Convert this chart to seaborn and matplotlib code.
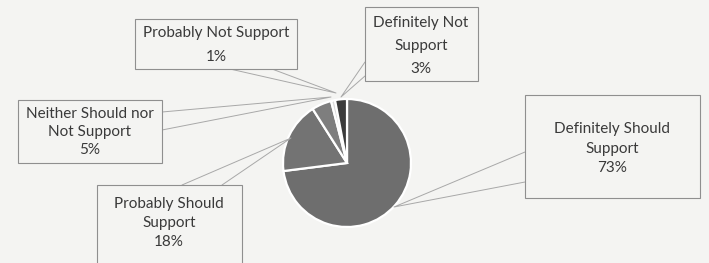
import matplotlib
matplotlib.use("Agg")
import matplotlib.pyplot as plt
import seaborn as sns
from matplotlib.patches import Rectangle

# Survey answers (clockwise from 12 o'clock)
categories = ["Definitely Should\nSupport", "Probably Should\nSupport",
              "Neither Should nor\nNot Support", "Probably Not Support",
              "Definitely Not\nSupport"]
shares = [73, 18, 5, 1, 3]
slice_colors = ["#6e6e6e", "#737373", "#7e7e7e", "#dcdcdc", "#3b3b3b"]

# Callout layout in picture pixels: box (x0, y0, x1, y1), text centre, pointer base points and tip
boxes = [(525, 95, 700, 198), (97, 185, 242, 275), (18, 100, 162, 163),
         (135, 19, 297, 69), (365, 7, 478, 81)]
text_pos = [(612, 149), (169, 223), (90, 132), (216, 45), (421, 46)]
line_gap = [1.5, 1.45, 1.4, 1.85, 1.8]
pointers = [((525, 152), (525, 182), (394, 207)),
            ((182, 185), (222, 185), (291, 138)),
            ((162, 112), (162, 130), (331, 97)),
            ((230, 69), (272, 69), (336, 93)),
            ((365, 62), (365, 76), (341, 97))]

W, H = 709, 263
pie_center = (347, 163)
pie_radius = 64

sns.set_theme(style="white")
plt.rcParams['font.family'] = ['Lato', 'DejaVu Sans']

bg = "#f4f4f2"
fig = plt.figure(figsize=(W / 100, H / 100), dpi=100, facecolor=bg)
ax = fig.add_axes([0, 0, 1, 1])
ax.set_facecolor(bg)

ax.pie(shares, colors=slice_colors, startangle=90, counterclock=False,
       center=(pie_center[0], H - pie_center[1]), radius=pie_radius,
       wedgeprops=dict(edgecolor="white", linewidth=1.6))

for i, lab in enumerate(categories):
    x0, y0, x1, y1 = boxes[i]
    (ax_, ay_), (bx_, by_), (tx, ty) = pointers[i]
    ax.plot([ax_, tx, bx_], [H - ay_, H - ty, H - by_], color="#a8a8a8",
            linewidth=0.7, zorder=3)
    ax.add_patch(Rectangle((x0, H - y1), x1 - x0, y1 - y0, facecolor=bg,
                           edgecolor="#8f8f8f", linewidth=0.8, zorder=4))
    ax.text(text_pos[i][0], H - text_pos[i][1], f"{lab}\n{shares[i]}%",
            ha="center", va="center", fontsize=11, color="#3a3a3a",
            linespacing=line_gap[i], zorder=5)

ax.set_xlim(0, W)
ax.set_ylim(0, H)
ax.set_aspect("auto")
ax.axis("off")

fig.savefig("out.png", dpi=100, facecolor=bg)
